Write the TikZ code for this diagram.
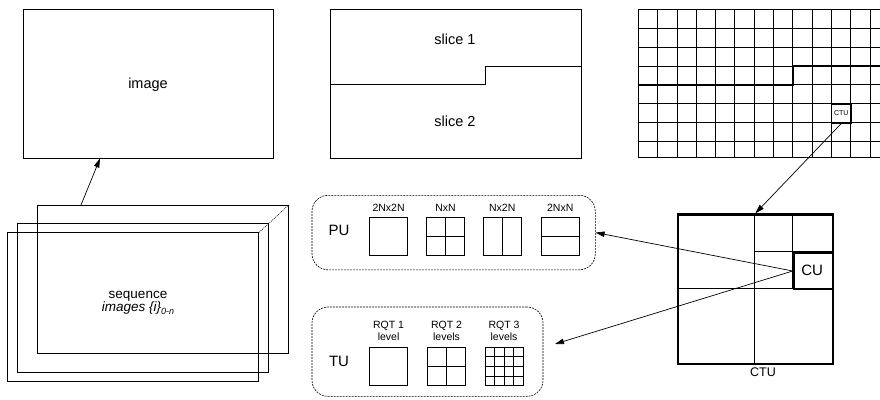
\documentclass[tikz,border=0pt]{standalone}
\usepackage{fontspec}
\setmainfont{Liberation Sans}
\usetikzlibrary{arrows.meta,calc}
\begin{document}
\begin{tikzpicture}[x=1pt,y=-1pt,
  box/.style={draw, line width=0.8pt, inner sep=0pt, anchor=north west},
  sq/.style={draw, line width=0.8pt, minimum width=38.3pt, minimum height=37.5pt, inner sep=0pt, anchor=north west},
  dbox/.style={draw, dash pattern=on 2pt off 1pt, line width=0.6pt, rounded corners=16pt, inner sep=0pt, anchor=north west},
  arr/.style={-{Triangle[length=9pt,width=5.5pt]}, line width=0.7pt},
  big/.style={font=\fontsize{14.5}{16}\selectfont},
  mid/.style={font=\fontsize{13.5}{15}\selectfont, align=center},
  small/.style={font=\fontsize{10.5}{12.5}\selectfont, align=center},
  gridline/.style={line width=0.9pt},
  thickline/.style={line width=2.5pt}]
\useasboundingbox (0,0) rectangle (880,399);

% image
\node[box, minimum width=250.6pt, minimum height=148.4pt] (img) at (22.7,9.3) {};
\node[big] (imgtxt) at (148,84.3) {image};

% slices
\node[box, minimum width=251pt, minimum height=148.4pt] (slc) at (330,9.3) {};
\draw[line width=0.8pt] (slc.west |- 0,84.3) -- (485,84.3) -- (485,66) -- (slc.east |- 0,66);
\node[big] (s1) at (455,39.3) {slice 1};
\node[big] (s2) at (455,121.3) {slice 2};

% grid
\foreach \i in {0,...,12}
  \draw[gridline] ({638.3+19.32*\i},9.3) -- ({638.3+19.32*\i},157.7);
\foreach \j in {0,...,7}
  \draw[gridline] (638.3,{9.3+18.91*\j}) -- (880,{9.3+18.91*\j});
\draw[gridline] (638.3,157.7) -- (880,157.7);
\draw[thickline] (638.3,84.9) -- (792.9,84.9) -- (792.9,66) -- (880,66);
\node[draw, line width=1.6pt, fill=white, minimum width=19.3pt, minimum height=18.9pt, inner sep=0pt,
      font=\fontsize{7}{8}\selectfont] (ctus) at (841.2,113.3) {CTU};

% sequence
\node[box, minimum width=251pt, minimum height=148.4pt] (seqback) at (36.7,205) {};
\node[box, minimum width=251pt, minimum height=148.8pt] (seqmid) at (17.3,223.3) {};
\node[box, minimum width=251pt, minimum height=148.8pt] (seqfront) at (7.3,232.3) {};
\draw[line width=0.6pt, dash pattern=on 1pt off 1pt] (seqfront.north east) -- (seqmid.north east) -- (seqback.north east);
\node[mid] (seqtxt) at (138,303) {sequence\\[-2pt]\textit{images \{i\}}\raisebox{-3pt}{\fontsize{9}{10}\selectfont\textit{0-n}}};
\draw[arr] ($(seqback.north west)+(44.3,0)$) -- ($(img.south west)+(77.3,0)$);

% PU box
\node[dbox, minimum width=283.3pt, minimum height=74.5pt] (pubox) at (311.7,195) {};
\node[font=\fontsize{15}{17}\selectfont] (pu) at (339,230) {PU};
\node[sq] (p1) at (369,217.3) {};
\node[sq] (p2) at (426,217.3) {};
\node[sq] (p3) at (482.7,217.3) {};
\node[sq] (p4) at (540.7,217.3) {};
\draw[line width=0.8pt] (p2.north) -- (p2.south) (p2.west) -- (p2.east);
\draw[line width=0.8pt] (p3.north) -- (p3.south);
\draw[line width=0.8pt] (p4.west) -- (p4.east);
\node[small, anchor=south] (l1) at ($(p1.north)+(0,-2)$) {2Nx2N};
\node[small, anchor=south] (l2) at ($(p2.north)+(0,-2)$) {NxN};
\node[small, anchor=south] (l3) at ($(p3.north)+(0,-2)$) {Nx2N};
\node[small, anchor=south] (l4) at ($(p4.north)+(0,-2)$) {2NxN};

% TU box
\node[dbox, minimum width=231pt, minimum height=89.3pt] (tubox) at (311.7,306.7) {};
\node[font=\fontsize{15}{17}\selectfont] (tu) at (339,361) {TU};
\node[sq] (t1) at (369,347.3) {};
\node[sq] (t2) at (427,347.3) {};
\node[sq] (t3) at (484.5,347.3) {};
\draw[line width=0.8pt] (t2.north) -- (t2.south) (t2.west) -- (t2.east);
\foreach \k in {1,2,3} {
  \draw[line width=0.8pt] ($(t3.north west)!\k/4!(t3.north east)$) -- ($(t3.south west)!\k/4!(t3.south east)$);
  \draw[line width=0.8pt] ($(t3.north west)!\k/4!(t3.south west)$) -- ($(t3.north east)!\k/4!(t3.south east)$);
}
\node[small, anchor=south] (m1) at ($(t1.north)+(0,-3)$) {RQT 1\\level};
\node[small, anchor=south] (m2) at ($(t2.north)+(0,-3)$) {RQT 2\\levels};
\node[small, anchor=south] (m3) at ($(t3.north)+(0,-3)$) {RQT 3\\levels};

% CTU big
\draw[line width=0.8pt] (754.3,213.3) -- (754.3,362.7);
\draw[line width=0.8pt] (676.7,288.3) -- (831.7,288.3);
\draw[line width=0.8pt] (792.7,213.3) -- (792.7,288.3);
\draw[line width=0.8pt] (754.3,251.7) -- (831.7,251.7);
\node[box, line width=2.5pt, minimum width=155pt, minimum height=149.4pt] (ctu) at (676.7,213.3) {};
\node[box, line width=2pt, minimum width=39pt, minimum height=36.6pt] (cu) at (792.7,251.7) {};
\node[font=\fontsize{15}{17}\selectfont] (cutxt) at (812.2,270) {CU};
\node[font=\fontsize{12.5}{14}\selectfont] (ctutxt) at (763,372) {CTU};

% connectors
\coordinate (tuarr) at (555,344);
\draw[arr] (ctus.south) -- (ctu.north);
\draw[arr] (cu.west) -- (pubox.east);
\draw[arr] (cu.west) -- (tuarr);
\end{tikzpicture}
\end{document}
